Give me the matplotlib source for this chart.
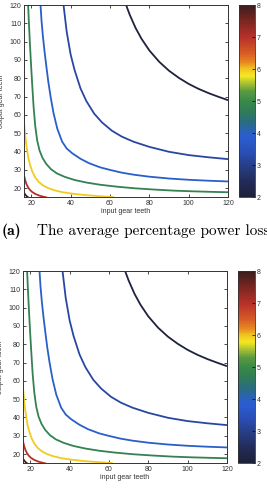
import numpy as np
import matplotlib
matplotlib.use("Agg")
import matplotlib.pyplot as plt
from matplotlib.colors import LinearSegmentedColormap, Normalize
from matplotlib.cm import ScalarMappable

# contour levels (power loss %) and the curves
levels = [2.1, 3.2, 3.9, 4.8, 5.95, 7.0, 7.9]

c1_x = [68.2, 70, 73, 76, 80, 85, 90, 95, 100, 105, 110, 115, 120]
c1_y = [120, 114.8, 107.5, 101.6, 95.2, 89.0, 84.1, 80.2, 76.9, 74.2, 71.9, 69.9, 68.0]

c2_x = [36.4, 38, 40, 42, 45, 48, 52, 56, 61, 66, 72, 80, 90, 100, 110, 120]
c2_y = [120, 105.4, 93.0, 84.5, 74.5, 67.5, 60.6, 55.8, 51.3, 48.1, 45.3, 42.5, 39.8, 38.0, 36.8, 35.8]

c3_x = [24.7, 25.2, 25.9, 26.7, 27.6, 28.6, 29.8, 31.3, 33.2, 35.7, 38, 40.8, 45,
        49.3, 55, 60, 66, 72, 80, 90, 100, 110, 120]
c3_y = [120, 111.5, 103, 95, 87, 78.5, 70, 61, 52.5, 45.3, 41.6, 39.0, 36.0,
        33.6, 31.3, 29.9, 28.4, 27.3, 26.2, 25.2, 24.5, 24.0, 23.6]

c4_x = [18.4, 18.8, 19.3, 19.9, 20.5, 21.2, 22.0, 23.0, 24.2, 25.7, 27.5, 30, 33,
        37, 42, 48, 55, 63, 72, 82, 92, 102, 112, 120]
c4_y = [120, 110, 99, 87, 76, 64, 54, 46, 40.5, 36.5, 33.3, 30.3, 28.0,
        26.1, 24.4, 23.0, 21.8, 20.8, 19.9, 19.2, 18.6, 18.2, 17.9, 17.7]

c5_x = [16.4, 16.8, 17.3, 17.9, 18.6, 19.5, 20.6, 22, 23.8, 26, 28.7, 32, 36, 41, 47, 54, 62]
c5_y = [55, 50, 45, 40.5, 36, 32.2, 28.8, 25.8, 23.3, 21.4, 19.9, 18.7, 17.7, 16.9, 16.2, 15.6, 15.0]

c6_x = [16.4, 16.9, 17.5, 18.3, 19.3, 20.5, 22, 24, 26, 28]
c6_y = [26.5, 24.3, 22.3, 20.5, 19.0, 17.8, 16.8, 15.9, 15.3, 14.8]

c7_x = [16.4, 17.0, 17.8, 18.5]
c7_y = [17.3, 16.3, 15.4, 14.9]

curves = [(c1_x, c1_y), (c2_x, c2_y), (c3_x, c3_y), (c4_x, c4_y),
          (c5_x, c5_y), (c6_x, c6_y), (c7_x, c7_y)]

x_ticks = [20, 40, 60, 80, 100, 120]
y_ticks = [20, 30, 40, 50, 60, 70, 80, 90, 100, 110, 120]
cbar_ticks = [2, 3, 4, 5, 6, 7, 8]

# colormap as seen on the colour bar (2 .. 8)
cmap = LinearSegmentedColormap.from_list("loss", [
    (0.00, "#1c2038"), (0.08, "#222c58"), (0.17, "#27408c"), (0.22, "#2a4cb0"),
    (0.30, "#2a5cd0"), (0.33, "#2a60c4"), (0.38, "#2a6a8a"), (0.44, "#2f7a5a"),
    (0.50, "#3a8a48"), (0.55, "#5a9a40"), (0.60, "#b8c830"), (0.63, "#f5e820"),
    (0.67, "#f0c020"), (0.70, "#e88a20"), (0.75, "#d85a25"), (0.83, "#b8322a"),
    (0.92, "#7a2520"), (1.00, "#3a1e1e")])
norm = Normalize(2, 8)

fig = plt.figure(figsize=(2.67, 4.98), dpi=100)
tick_font = {"family": "Liberation Sans", "size": 5}


def draw_panel(ax_rect, cb_rect):
    ax = fig.add_axes(ax_rect)
    for lev, (xs, ys) in zip(levels, curves):
        ax.plot(xs, ys, color=cmap(norm(lev)), lw=1.3, solid_capstyle="butt")
    ax.set_xlim(16.3, 120)
    ax.set_ylim(15.1, 120)
    ax.set_xticks(x_ticks)
    ax.set_yticks(y_ticks)
    ax.tick_params(direction="in", length=2, width=0.5, top=True, right=True,
                   labelsize=5, labelcolor="#333333", pad=2)
    for lab in ax.get_xticklabels() + ax.get_yticklabels():
        lab.set_family("Liberation Sans")
    for sp in ax.spines.values():
        sp.set_linewidth(0.7)
        sp.set_color("#333333")
    ax.set_xlabel("input gear teeth", fontdict=tick_font, color="#333333")
    ax.xaxis.set_label_coords(0.5, -0.055)
    ax.set_ylabel("output gear teeth", fontdict=tick_font, color="#333333")
    ax.yaxis.set_label_coords(-0.092, 0.5)

    cax = fig.add_axes(cb_rect)
    cb = fig.colorbar(ScalarMappable(norm=norm, cmap=cmap), cax=cax, ticks=cbar_ticks)
    cb.outline.set_linewidth(0.6)
    cb.outline.set_edgecolor("#333333")
    cax.tick_params(direction="in", length=2, width=0.5, labelsize=5,
                    labelcolor="#333333", pad=1)
    for lab in cax.get_yticklabels():
        lab.set_family("Liberation Sans")
    return ax


draw_panel([24 / 267, 1 - 197 / 498, 204 / 267, 192 / 498],
           [239 / 267, 1 - 197 / 498, 16 / 267, 192 / 498])
draw_panel([23 / 267, 1 - 463 / 498, 204 / 267, 192 / 498],
           [238 / 267, 1 - 463 / 498, 17 / 267, 192 / 498])

# caption of subfigure (a), runs off the right edge as in the original page
fig.text(2 / 267, 1 - 231 / 498, "(a)", family="cmb10", fontsize=11.2, va="center")
fig.text(37 / 267, 1 - 231 / 498, "The average percentage power loss",
         family="cmr10", fontsize=11.0, va="center")

fig.savefig("out.png", dpi=100)
